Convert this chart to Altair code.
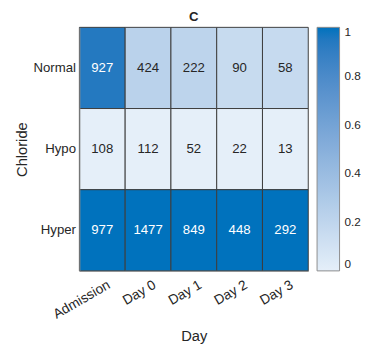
import altair as alt
import pandas as pd

days = ["Admission", "Day 0", "Day 1", "Day 2", "Day 3"]
chloride = ["Normal", "Hypo", "Hyper"]
normal_counts = [927, 424, 222, 90, 58]
hypo_counts = [108, 112, 52, 22, 13]
hyper_counts = [977, 1477, 849, 448, 292]

rows = []
for name, counts in zip(chloride, [normal_counts, hypo_counts, hyper_counts]):
    for d, c in zip(days, counts):
        rows.append({"Day": d, "Chloride": name, "Count": c})
df = pd.DataFrame(rows)

FONT = "Liberation Sans"
TXT = "#262626"

base = alt.Chart(df).transform_joinaggregate(
    colmax="max(Count)", colmin="min(Count)", groupby=["Day"]
).transform_calculate(
    frac="(datum.Count - datum.colmin) / (datum.colmax - datum.colmin)"
)

x = alt.X("Day:N", sort=days, title="Day",
          axis=alt.Axis(labelAngle=-30, labelAlign="right", labelBaseline="middle",
                        ticks=False, labelPadding=13, labelOffset=7, labelFontSize=14,
                        domainColor="#8c8c8c", zindex=1, titlePadding=8))
y = alt.Y("Chloride:N", sort=chloride, title="Chloride",
          axis=alt.Axis(ticks=False, labelPadding=4, domainColor="#8c8c8c",
                        zindex=1, titlePadding=4))

rects = base.mark_rect(stroke="#3c3c3c", strokeWidth=1).encode(
    x=x, y=y,
    color=alt.Color("frac:Q",
                    scale=alt.Scale(domain=[0, 1], range=["#e5eff9", "#0072bd"]),
                    legend=alt.Legend(title=None, gradientLength=249, gradientThickness=23,
                                      values=[0, 0.2, 0.4, 0.6, 0.8, 1], format="~g",
                                      labelBaseline="middle", labelOffset=5,
                                      gradientStrokeColor="#8c8c8c", gradientStrokeWidth=1,
                                      labelFontSize=12, labelColor=TXT, labelFont=FONT,
                                      offset=9, padding=0, labelOverlap=False)),
)

texts = base.mark_text(font=FONT, fontSize=13.5).encode(
    x=alt.X("Day:N", sort=days),
    y=alt.Y("Chloride:N", sort=chloride),
    text="Count:Q",
    color=alt.condition("datum.frac > 0.5", alt.value("white"), alt.value(TXT)),
)

chart = alt.layer(rects, texts).properties(
    width=234, height=249,
    title=alt.Title("C", fontSize=13.5, fontWeight="bold", font=FONT, color=TXT, offset=3),
    autosize=alt.AutoSizeParams(type="none"),
    padding={"left": 73, "top": 16, "right": 57, "bottom": 72},
).configure_view(stroke=None).configure_axis(
    labelFont=FONT, titleFont=FONT, labelFontSize=13.5, titleFontSize=15,
    labelColor=TXT, titleColor=TXT, titleFontWeight="normal", grid=False,
)

chart.save("out.html", embed_options={"renderer": "svg", "actions": False})
